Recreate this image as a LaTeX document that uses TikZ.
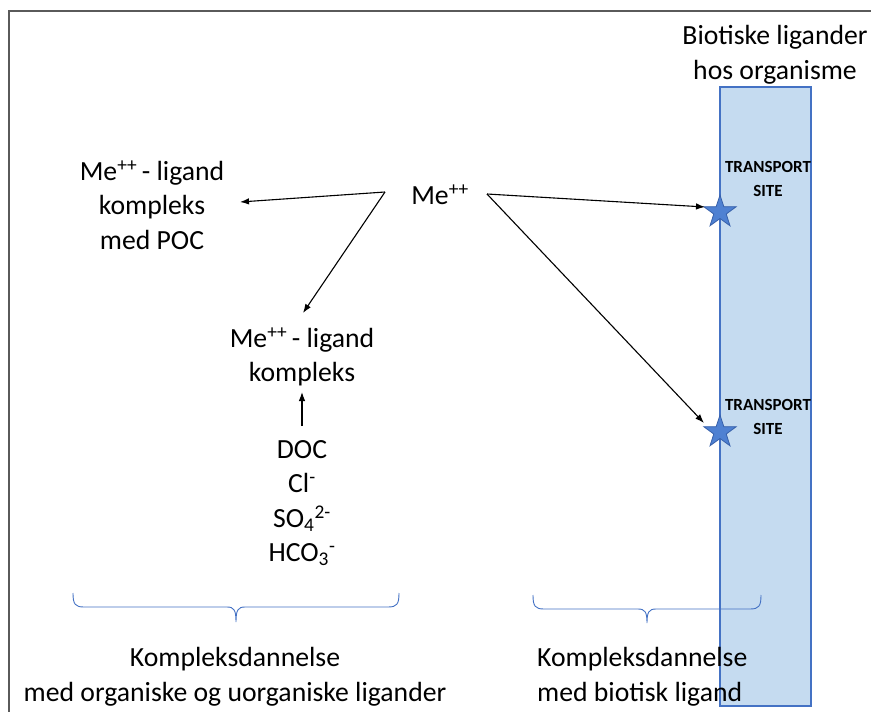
\documentclass[tikz,border=0pt]{standalone}
\usepackage{fontspec}
\setmainfont{Carlito}
\usetikzlibrary{shapes.geometric,arrows.meta}
\definecolor{rectfill}{RGB}{197,219,240}
\definecolor{rectdraw}{RGB}{68,114,196}
\definecolor{starfill}{RGB}{79,129,210}
\definecolor{stardraw}{RGB}{55,96,170}
\definecolor{bracecol}{RGB}{68,114,196}
\definecolor{framecol}{RGB}{90,90,90}
\tikzset{
  maintext/.style={inner sep=0pt, align=center, font=\fontsize{27.7}{34.5}\selectfont},
  sitetext/.style={inner sep=0pt, align=center, font=\fontsize{17}{24}\selectfont\bfseries},
  sitestar/.style={star, star points=5, star point ratio=2.6, minimum size=34pt, inner sep=0pt, fill=starfill, draw=stardraw, line width=0.8pt},
  arr/.style={-{Latex[length=9pt,width=6.5pt]}, line width=1.1pt},
  bracepath/.style={draw=bracecol, line width=0.9pt},
}
\begin{document}
\begin{tikzpicture}[x=1pt,y=-1pt]
\useasboundingbox (0,0) rectangle (871,712);
% frame
\draw[framecol, line width=1.2pt] (871,11) -- (9,11) -- (9,712);
% organism rectangle
\node[draw=rectdraw, fill=rectfill, line width=1.5pt, minimum width=91pt, minimum height=619pt, inner sep=0pt] (org) at (765.5,396.5) {};
% title
\node[maintext] (bio) at (775,55) {Biotiske ligander\\hos organisme};
% transport sites
\node[sitetext] (ts1) at (768,179) {TRANSPORT\\SITE};
\node[sitetext] (ts2) at (768,417) {TRANSPORT\\SITE};
\node[sitestar] (st1) at (720,212) {};
\node[sitestar] (st2) at (720,432) {};
% metal ion
\node[maintext] (me) at (440,195) {Me\textsuperscript{++}};
% complexes
\node[maintext] (poc) at (152,205) {Me\textsuperscript{++}\,- ligand\\kompleks\\med POC};
\node[maintext] (lig) at (302,357) {Me\textsuperscript{++}\,- ligand\\kompleks};
\node[maintext] (ligs) at (302,503) {DOC\\Cl\textsuperscript{-}\\SO\textsubscript{4}\textsuperscript{2-}\\HCO\textsubscript{3}\textsuperscript{-}};
% arrow end points
\coordinate (mel) at (385,192);
\coordinate (mer) at (487,194);
\coordinate (pocin) at (240,202);
\coordinate (ligin) at (303,313);
\coordinate (ligbot) at (302,392);
\coordinate (ligstop) at (302,426);
\coordinate (s1in) at (705,207);
\coordinate (s2in) at (704,423);
\draw[arr] (mel) -- (pocin);
\draw[arr] (mel) -- (ligin);
\draw[arr] (mer) -- (s1in);
\draw[arr] (mer) -- (s2in);
\draw[arr] (ligstop) -- (ligbot);
% braces
\draw[bracepath] (73,593) .. controls (73,604) and (75,607) .. (84,607) -- (227,607) .. controls (234,607) and (236,610) .. (236,622)
  .. controls (236,610) and (238,607) .. (245,607) -- (388,607) .. controls (397,607) and (399,604) .. (399,593);
\draw[bracepath] (533,595) .. controls (533,606) and (535,609) .. (544,609) -- (638,609) .. controls (645,609) and (647,612) .. (647,623)
  .. controls (647,612) and (649,609) .. (656,609) -- (750,609) .. controls (759,609) and (761,606) .. (761,595);
% bottom labels
\node[maintext] (kl) at (235,677) {Kompleksdannelse\\med organiske og uorganiske ligander};
\node[maintext, align=left, anchor=west] (kr) at (537,677) {Kompleksdannelse\\med biotisk ligand};
\end{tikzpicture}
\end{document}
